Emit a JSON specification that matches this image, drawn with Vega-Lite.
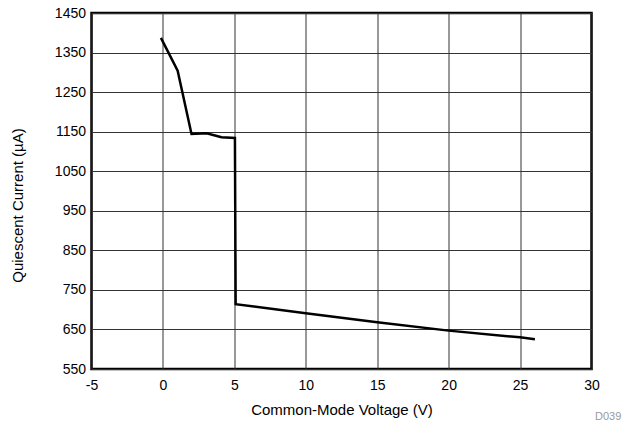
{
  "$schema": "https://vega.github.io/schema/vega-lite/v6.json",
  "width": 500,
  "height": 356,
  "autosize": {"type": "none"},
  "padding": {"left": 91.5, "top": 13, "right": 34.5, "bottom": 59},
  "background": "white",
  "config": {
    "font": "Liberation Sans",
    "view": {"stroke": "black", "strokeWidth": 2.5},
    "axis": {
      "labelFont": "Liberation Sans",
      "titleFont": "Liberation Sans",
      "labelFontSize": 14,
      "titleFontSize": 15,
      "labelColor": "black",
      "titleColor": "black",
      "titleFontWeight": "normal",
      "ticks": false,
      "domain": false,
      "gridColor": "#333333",
      "gridWidth": 1,
      "gridOpacity": 1
    }
  },
  "title": {
    "text": "D039",
    "orient": "bottom",
    "anchor": "end",
    "fontSize": 11,
    "fontWeight": "normal",
    "color": "#999999",
    "font": "Liberation Sans",
    "offset": -6,
    "dx": 22
  },
  "data": {
    "values": [
      {"v": -0.14, "i": 1387},
      {"v": 1.03, "i": 1304},
      {"v": 2.0, "i": 1144},
      {"v": 3.06, "i": 1146},
      {"v": 4.1, "i": 1136},
      {"v": 5.04, "i": 1134},
      {"v": 5.09, "i": 714},
      {"v": 10, "i": 691},
      {"v": 15, "i": 668},
      {"v": 20, "i": 647},
      {"v": 25, "i": 630},
      {"v": 26.04, "i": 625}
    ]
  },
  "mark": {"type": "line", "color": "black", "strokeWidth": 2.5, "clip": true},
  "encoding": {
    "x": {
      "field": "v",
      "type": "quantitative",
      "scale": {"domain": [-5, 30], "nice": false, "zero": false},
      "axis": {"values": [-5, 0, 5, 10, 15, 20, 25, 30], "labelExpr": "'' + datum.value", "title": "Common-Mode Voltage (V)", "labelPadding": 9, "titlePadding": 10, "labelFlush": false}
    },
    "y": {
      "field": "i",
      "type": "quantitative",
      "scale": {"domain": [550, 1450], "nice": false, "zero": false},
      "axis": {"values": [550, 650, 750, 850, 950, 1050, 1150, 1250, 1350, 1450], "labelExpr": "'' + datum.value", "title": "Quiescent Current (µA)", "labelPadding": 6, "titleX": -74, "titleY": 192, "titleAngle": -90, "titleAlign": "center", "titleBaseline": "middle", "labelFlush": false}
    }
  }
}
